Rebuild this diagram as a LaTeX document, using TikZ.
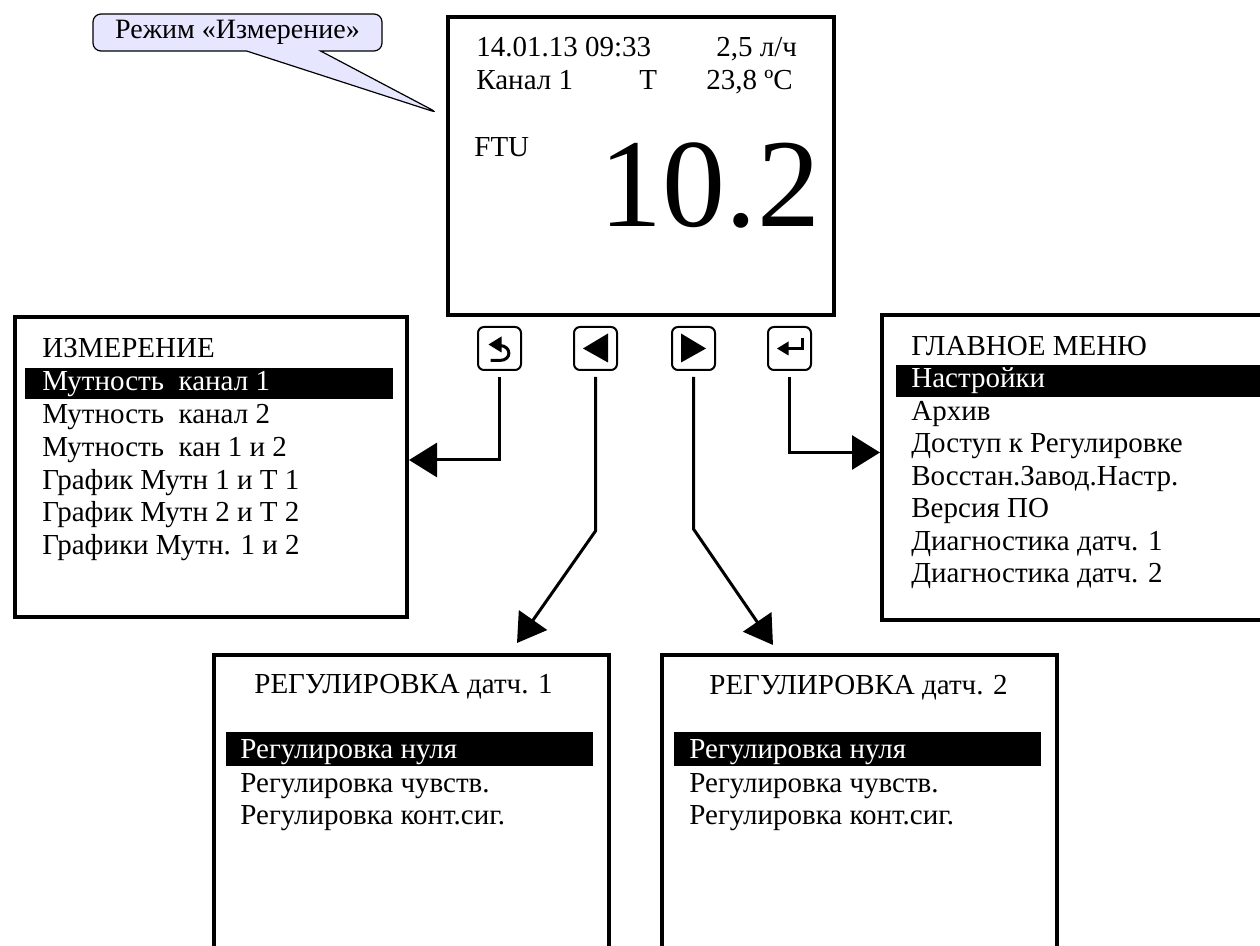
\documentclass[tikz,border=0pt]{standalone}
\usepackage{fontspec}
\setmainfont{Liberation Serif}
\usetikzlibrary{positioning,arrows.meta,calc,shapes.callouts}

\definecolor{calloutfill}{RGB}{230,230,255}

\begin{document}
\begin{tikzpicture}[x=0.5pt,y=-0.5pt,
    screen/.style={draw, line width=2pt, rectangle, anchor=north west, inner sep=0pt},
    key/.style={draw, line width=1pt, rounded corners=3pt, minimum size=21.5pt, inner sep=0pt},
    txt/.style={font=\fontsize{14.5}{17}\selectfont, inner sep=0pt, anchor=base west},
    sel/.style={txt, text=white},
    bar/.style={fill=black},
    arr/.style={line width=1.5pt, shorten <=3pt, -{Triangle[length=14pt,width=17pt]}},
    icon/.style={line width=1.5pt}]
    \useasboundingbox (0,0) rectangle (1260,946);
    \clip (0,0) rectangle (1260,946);
    \fill[white] (0,0) rectangle (1260,946);

    % Main display
    \node[screen, minimum width=193pt, minimum height=149pt] (main) at (446,15) {};
    \node[txt] (date) at (476,57) {14.01.13 09:33};
    \node[txt] (flow) at (716,57) {2,5 л/ч};
    \node[txt] (chan) at (476,90) {Канал 1};
    \node[txt] (tlab) at (639,90) {T};
    \node[txt] (temp) at (706,90) {23,8 ºC};
    \node[txt] (unit) at (474,157) {FTU};
    \node[font=\fontsize{63}{68}\selectfont, inner sep=0pt, anchor=base] (value) at (710,227) {10.2};

    % Callout
    \node[rectangle callout, draw, line width=0.6pt, fill=calloutfill, rounded corners=4pt,
          minimum width=144.5pt, minimum height=18.5pt, inner sep=0pt,
          callout absolute pointer={(438,113)}, callout pointer width=37pt,
          font=\fontsize{14}{17}\selectfont] (mode) at (237.5,32.5) {Режим «Измерение»};

    % Keys
    \node[key] (b1) at (499.5,348.5) {};
    \node[key] (b2) at (595.5,348.5) {};
    \node[key] (b3) at (693.5,348.5) {};
    \node[key] (b4) at (789.5,348.5) {};

    % Key icons
    \begin{scope}[shift={(b1)}]
        \fill (-11,-4) -- (2,-12) -- (2,4) -- cycle;
        \draw[icon] (0,-3) .. controls (12,-3) and (13,12) .. (0,12) -- (-9,12);
    \end{scope}
    \begin{scope}[shift={(b2)}]
        \fill (-12.5,0) -- (12.5,-15) -- (12.5,14) -- cycle;
    \end{scope}
    \begin{scope}[shift={(b3)}]
        \fill (12.5,0) -- (-12.5,-15) -- (-12.5,14) -- cycle;
    \end{scope}
    \begin{scope}[shift={(b4)}]
        \draw[icon] (13,-10) -- (13,0) -- (-2,0);
        \fill (-12.5,0) -- (-1,-7) -- (-1,7) -- cycle;
    \end{scope}

    % Measurement menu
    \node[screen, minimum width=196pt, minimum height=150pt] (meas) at (13,315) {};
    \fill[bar] (25,368) rectangle (393,399);
    \node[txt] (m0) at (42,358) {ИЗМЕРЕНИЕ};
    \node[sel] (m1) at (42,391) {Мутность\ \ канал 1};
    \node[txt] (m2) at (42,424) {Мутность\ \ канал 2};
    \node[txt] (m3) at (42,457) {Мутность\ \ кан 1 и 2};
    \node[txt] (m4) at (42,490) {График Мутн 1 и Т 1};
    \node[txt] (m5) at (42,522) {График Мутн 2 и Т 2};
    \node[txt] (m6) at (42,555) {Графики Мутн. 1 и 2};

    % Main menu
    \node[screen, minimum width=215pt, minimum height=152.5pt] (menu) at (880,313) {};
    \fill[bar] (896,365) rectangle (1270,397);
    \node[txt] (g0) at (911,356) {ГЛАВНОЕ МЕНЮ};
    \node[sel] (g1) at (911,388) {Настройки};
    \node[txt] (g2) at (911,421) {Архив};
    \node[txt] (g3) at (911,453) {Доступ к Регулировке};
    \node[txt] (g4) at (911,486) {Восстан.Завод.Настр.};
    \node[txt] (g5) at (911,518) {Версия ПО};
    \node[txt] (g6) at (911,551) {Диагностика датч. 1};
    \node[txt] (g7) at (911,583) {Диагностика датч. 2};

    % Adjustment menus
    \node[screen, minimum width=197.5pt, minimum height=200pt] (reg1) at (212,653) {};
    \fill[bar] (226,732) rectangle (593,766);
    \node[txt] (r10) at (254,694) {РЕГУЛИРОВКА датч. 1};
    \node[sel] (r11) at (240,759) {Регулировка нуля};
    \node[txt] (r12) at (240,792) {Регулировка чувств.};
    \node[txt] (r13) at (240,825) {Регулировка конт.сиг.};

    \node[screen, minimum width=197.5pt, minimum height=200pt] (reg2) at (660,653) {};
    \fill[bar] (674,732) rectangle (1041,766);
    \node[txt] (r20) at (709,695) {РЕГУЛИРОВКА датч. 2};
    \node[sel] (r21) at (689,759) {Регулировка нуля};
    \node[txt] (r22) at (689,792) {Регулировка чувств.};
    \node[txt] (r23) at (689,825) {Регулировка конт.сиг.};

    % Connectors
    \draw[arr] (b1.south) |- ([yshift=3.5pt]meas.east);
    \draw[arr] (b4.south) |- ([yshift=7.5pt]menu.west);
    \coordinate (k2) at ($(b2.south)+(0,160)$);
    \coordinate (k3) at ($(b3.south)+(0,158)$);
    \coordinate (t2) at ($(reg1.north west)+(305,-10)$);
    \coordinate (t3) at ($(reg2.north west)+(113,-8)$);
    \draw[arr] (b2.south) -- (k2) -- (t2);
    \draw[arr] (b3.south) -- (k3) -- (t3);
\end{tikzpicture}
\end{document}
